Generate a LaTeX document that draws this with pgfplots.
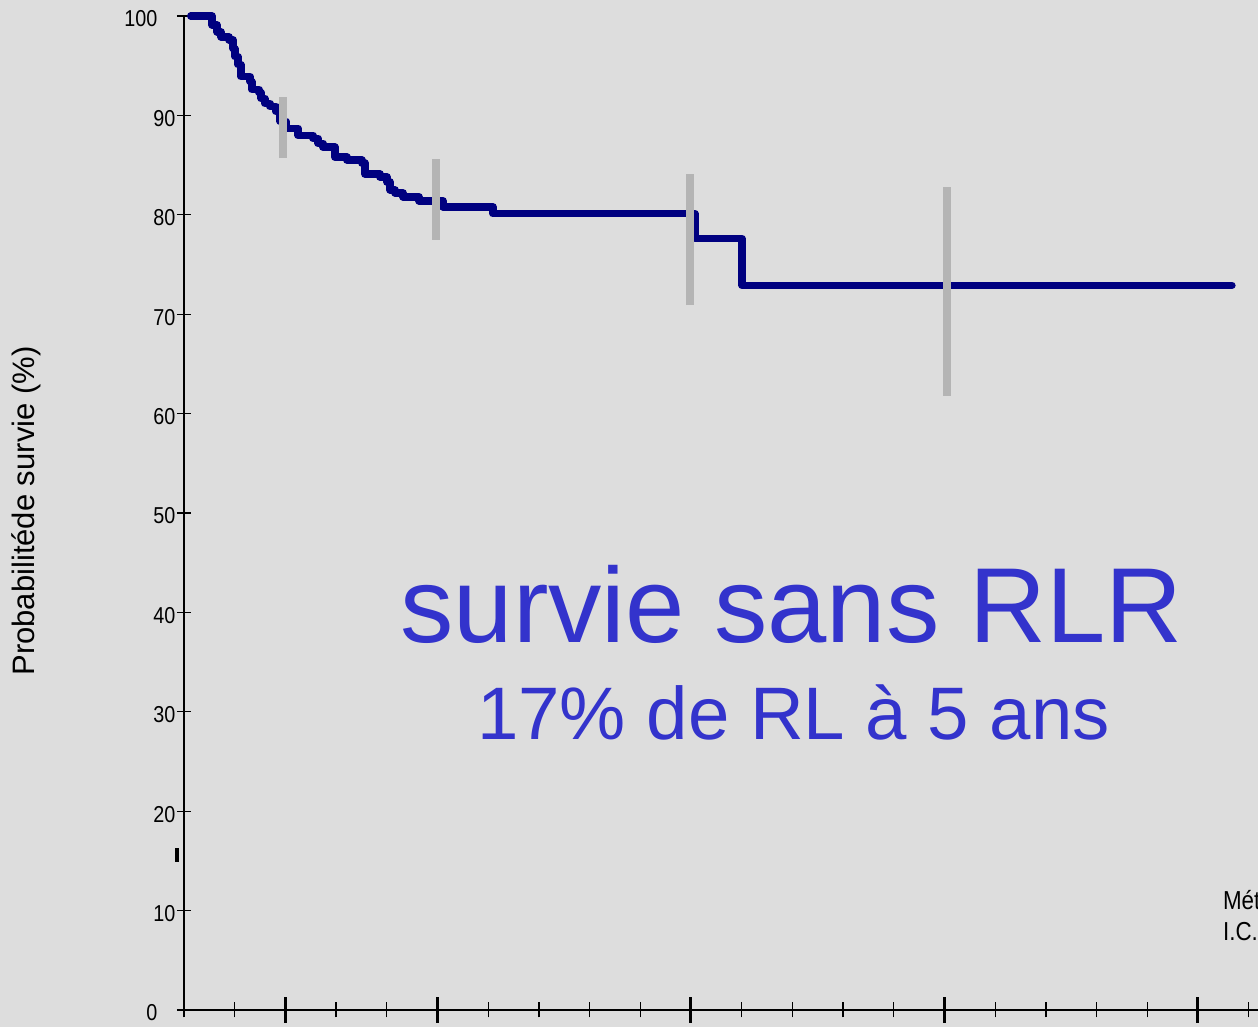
\documentclass[border=0pt]{standalone}
\usepackage{pgfplots}
\pgfplotsset{compat=1.18}
\usepackage{graphicx}
\usepackage{fontspec}
\setmainfont{Liberation Sans}

\definecolor{bg}{RGB}{221,221,221}
\definecolor{kmnavy}{RGB}{0,0,128}
\definecolor{cigray}{RGB}{180,180,180}
\definecolor{txtblue}{RGB}{51,51,204}

% Kaplan-Meier steps: time (months), survival (%)
\pgfplotstableread{
t s
0.40 100
1.66 99.1
1.95 98.4
2.19 97.9
2.66 97.6
2.90 96.7
3.02 95.9
3.20 95.1
3.37 93.9
3.91 93.4
4.02 92.6
4.44 92.3
4.56 91.7
4.79 91.2
5.09 90.9
5.44 90.4
5.68 89.4
6.04 88.7
6.75 88.0
7.63 87.7
7.93 87.2
8.22 86.8
8.93 85.8
9.64 85.5
10.53 85.2
10.71 84.1
11.60 83.8
12.01 83.3
12.19 82.5
12.49 82.2
12.96 81.8
13.91 81.4
15.33 80.8
18.28 80.1
30.24 77.6
33.02 72.9
62.01 72.9
}\kmdata

\pgfplotsset{kmframe/.style={
  at={(0,0)}, anchor=south west,
  scale only axis, width=540.8pt, height=497pt,
  xmin=0, xmax=64, ymin=0, ymax=100,
  clip=false,
  tick align=center,
}}

\begin{document}
\begin{tikzpicture}
\fill[bg] (-92pt,-8.5pt) rectangle (537pt,505pt);
\useasboundingbox (-92pt,-8.5pt) rectangle (537pt,505pt);

% x axis with long major and short minor ticks
\begin{axis}[
  kmframe,
  axis x line=bottom, axis y line=none,
  axis line style={-, line width=0.75pt, black},
  major tick length=13pt,
  minor tick length=7.5pt,
  xtick={6,15,30,45,60},
  minor xtick={0,3,9,12,18,21,24,27,33,36,39,42,48,51,54,57,63},
  xticklabels={},
  major x tick style={line width=1.5pt, black},
  minor x tick style={line width=0.65pt, black},
  ytick=\empty,
]
\end{axis}

% y axis and survival curve
\begin{axis}[
  kmframe,
  axis x line=none, axis y line=left,
  axis line style={-, line width=0.65pt, black},
  major tick length=7.2pt,
  xtick=\empty,
  ytick={0,10,...,100},
  y tick style={line width=0.65pt, black},
  yticklabel={\scalebox{0.86}[1]{\pgfmathprintnumber[assume math mode=true]{\tick}}\ifdim\tick pt<5pt\hspace*{9pt}\fi\ifdim\tick pt>95pt\hspace*{9pt}\fi},
  yticklabel style={font=\fontsize{11.5}{13}\selectfont, inner sep=0pt, anchor=east, xshift=-0.5pt, yshift=-1.5pt},
  ylabel={Probabilitéde survie (\%)},
  ylabel style={at={(axis description cs:-0.146,0.502)}, anchor=center, font=\fontsize{15.5}{18}\selectfont},
]
\addplot[kmnavy, line width=3.7pt, const plot, line join=round, line cap=round] table[x=t, y=s] {\kmdata};

% confidence interval bars
\addplot[cigray, line width=4pt] coordinates {(5.86,85.7) (5.86,91.85)};
\addplot[cigray, line width=4pt] coordinates {(14.91,77.5) (14.91,85.6)};
\addplot[cigray, line width=4pt] coordinates {(29.94,70.9) (29.94,84.1)};
\addplot[cigray, line width=4pt] coordinates {(45.15,61.8) (45.15,82.8)};

\draw[black, line width=2.2pt] (axis cs:-0.41,14.9) -- (axis cs:-0.41,16.3);

\node[anchor=base, text=txtblue, font=\fontsize{53.3}{60}\selectfont, inner sep=0pt] at (axis cs:35.95,37.0) {survie sans RLR};
\node[anchor=base, text=txtblue, font=\fontsize{37.2}{42}\selectfont, inner sep=0pt] at (axis cs:36.07,27.2) {17\% de RL à 5 ans};

\node[anchor=base west, font=\fontsize{13}{15}\selectfont, inner sep=0pt] at (axis cs:61.46,10.06) {\scalebox{0.86}[1]{Mét}};
\node[anchor=base west, font=\fontsize{13}{15}\selectfont, inner sep=0pt] at (axis cs:61.46,7.04) {\scalebox{0.86}[1]{I.C.}};
\end{axis}
\end{tikzpicture}
\end{document}
